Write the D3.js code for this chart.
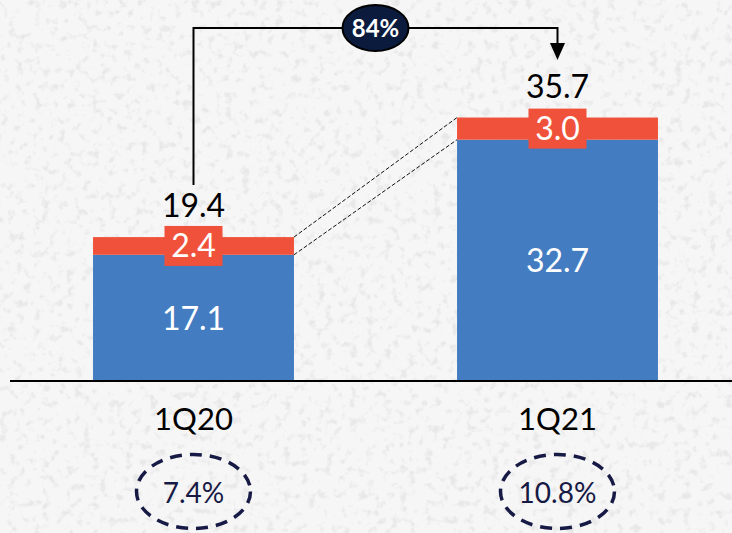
<!DOCTYPE html>
<html>
<head>
<meta charset="utf-8">
<script src="https://cdn.jsdelivr.net/npm/d3@7"></script>
<style>
  html, body { margin: 0; padding: 0; background: #f5f5f5; }
  svg { display: block; }
  text { font-family: Lato, "Open Sans", sans-serif; }
</style>
</head>
<body>
<svg id="chart" width="732" height="533"></svg>
<script>
const categories = ["1Q20", "1Q21"];
const baseValues = [17.1, 32.7];
const topValues = [2.4, 3.0];
const totals = [19.4, 35.7];
const marginLabels = ["7.4%", "10.8%"];
const growthLabel = "84%";

const W = 732, H = 533;
const svg = d3.select("#chart");

// textured background
const defs = svg.append("defs");
const f = defs.append("filter").attr("id", "speck").attr("x", 0).attr("y", 0).attr("width", "100%").attr("height", "100%");
f.append("feTurbulence").attr("type", "fractalNoise").attr("baseFrequency", 0.12).attr("numOctaves", 3).attr("seed", 7).attr("result", "n");
f.append("feColorMatrix").attr("in", "n").attr("type", "matrix")
  .attr("values", "0 0 0 0 0.6  0 0 0 0 0.6  0 0 0 0 0.6  0 0 0 -4.5 2.05");
svg.append("rect").attr("width", W).attr("height", H).attr("fill", "#f6f6f6");
svg.append("rect").attr("width", W).attr("height", H).attr("filter", "url(#speck)").attr("opacity", 0.3);

const x = d3.scaleBand().domain(categories).range([11.5, 739.5]).paddingInner(0.448).paddingOuter(0.224);
const y = d3.scaleLinear().domain([0, 40]).range([381, 381 - 40 * 7.38]);

const blue = "#437CC1", red = "#F0513A";
const data = categories.map((c, i) => ({ c, base: baseValues[i], top: topValues[i], total: totals[i], m: marginLabels[i] }));

const g = svg.append("g");

// bars
g.selectAll("rect.base").data(data).join("rect")
  .attr("x", d => x(d.c)).attr("width", x.bandwidth())
  .attr("y", d => y(d.base)).attr("height", d => y(0) - y(d.base)).attr("fill", blue);
g.selectAll("rect.top").data(data).join("rect")
  .attr("x", d => x(d.c)).attr("width", x.bandwidth())
  .attr("y", d => y(d.base + d.top)).attr("height", d => y(d.base) - y(d.base + d.top)).attr("fill", red);

// dashed connectors
const b0 = data[0], b1 = data[1];
[[b0.base + b0.top, b1.base + b1.top], [b0.base, b1.base]].forEach(([v0, v1]) => {
  g.append("line")
    .attr("x1", x(b0.c) + x.bandwidth()).attr("y1", y(v0))
    .attr("x2", x(b1.c)).attr("y2", y(v1))
    .attr("stroke", "#111").attr("stroke-width", 1).attr("stroke-dasharray", "4,2");
});

// baseline
g.append("line").attr("x1", 10).attr("x2", W).attr("y1", y(0)).attr("y2", y(0)).attr("stroke", "#000").attr("stroke-width", 2);

const cx = d => x(d.c) + x.bandwidth() / 2;

data.forEach(d => {
  const cy = (y(d.base) + y(d.base + d.top)) / 2;
  g.append("rect").attr("x", cx(d) - 29).attr("y", cy - 20).attr("width", 58).attr("height", 40).attr("fill", red);
  g.append("text").attr("x", cx(d)).attr("y", cy + 11.5).attr("text-anchor", "middle")
    .attr("font-size", 32).attr("fill", "#fff").text(d.top.toFixed(1));
  const by = (y(0) + y(d.base)) / 2;
  g.append("text").attr("x", cx(d)).attr("y", by + 12).attr("text-anchor", "middle")
    .attr("font-size", 32).attr("fill", "#fff").text(d.base.toFixed(1));
  g.append("text").attr("x", cx(d)).attr("y", y(d.base + d.top) - 20).attr("text-anchor", "middle")
    .attr("font-size", 32).attr("fill", "#000").text(d.total.toFixed(1));
  g.append("text").attr("x", cx(d)).attr("y", 430).attr("text-anchor", "middle")
    .attr("font-size", 31).attr("fill", "#000").text(d.c);
  g.append("ellipse").attr("cx", cx(d)).attr("cy", 491.5).attr("rx", 57).attr("ry", 37)
    .attr("fill", "none").attr("stroke", "#171a45").attr("stroke-width", 3.5).attr("stroke-dasharray", "12,8");
  g.append("text").attr("x", cx(d)).attr("y", 503).attr("text-anchor", "middle")
    .attr("font-size", 28).attr("fill", "#171a45").text(d.m);
});

// growth arrow
const topY = 28;
const startY = y(b0.base + b0.top) - 52;
const endY = 60;
g.append("path")
  .attr("d", `M${cx(b0)},${startY} V${topY} H${cx(b1)} V${endY - 16}`)
  .attr("fill", "none").attr("stroke", "#000").attr("stroke-width", 2);
g.append("path")
  .attr("d", `M${cx(b1) - 7.5},${endY - 17} L${cx(b1) + 7.5},${endY - 17} L${cx(b1)},${endY} Z`)
  .attr("fill", "#000");
const mx = (cx(b0) + cx(b1)) / 2;
g.append("ellipse").attr("cx", mx).attr("cy", topY).attr("rx", 33).attr("ry", 23)
  .attr("fill", "#0b1b3d").attr("stroke", "#000").attr("stroke-width", 2);
g.append("text").attr("x", mx).attr("y", topY + 8.5).attr("text-anchor", "middle")
  .attr("font-size", 24).attr("font-weight", "bold").attr("fill", "#fff").text(growthLabel);
</script>
</body>
</html>
